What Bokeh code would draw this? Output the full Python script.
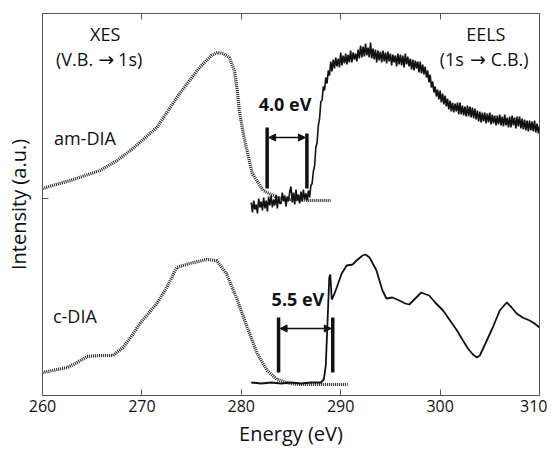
from bokeh.plotting import figure
from bokeh.models import Range1d, LinearAxis, FixedTicker, Arrow, NormalHead
from bokeh.core.properties import value
from bokeh.embed import file_html
from bokeh.resources import INLINE

FONT = "Open Sans"
ARROW_FONT = "DejaVu Sans"

# ---- data (intensity in arbitrary units) ----
x_ticks = [260, 270, 280, 290, 300, 310]
y_ticks = [197]

am_xes_e = [260.0, 261.0, 262.8, 264.0, 265.8, 267.5, 269.1, 271.5, 273.8, 275.8, 277.0, 277.6,
            278.2, 278.8, 279.3, 279.6, 279.8, 280.2, 280.5, 281.1, 282.2, 283.6, 285.0, 287.0, 289.0]
am_xes_i = [207, 210, 215, 219, 225, 235, 247, 268, 302, 328, 340, 343,
            342, 338, 325, 305, 285, 262, 248, 222, 205, 198, 196, 195, 195]

am_eels_e = [
    281.000, 281.125, 281.250, 281.375, 281.500, 281.625, 281.750, 281.875,
    282.000, 282.125, 282.250, 282.375, 282.500, 282.625, 282.750, 282.875,
    283.000, 283.125, 283.250, 283.375, 283.500, 283.625, 283.750, 283.875,
    284.000, 284.125, 284.250, 284.375, 284.500, 284.625, 284.750, 284.875,
    285.000, 285.125, 285.250, 285.375, 285.500, 285.625, 285.750, 285.875,
    286.000, 286.125, 286.250, 286.375, 286.500, 286.625, 286.750, 286.875,
    287.000, 287.125, 287.250, 287.375, 287.500, 287.625, 287.750, 287.875,
    288.000, 288.125, 288.250, 288.375, 288.500, 288.625, 288.750, 288.875,
    289.000, 289.125, 289.250, 289.375, 289.500, 289.625, 289.750, 289.875,
    290.000, 290.125, 290.250, 290.375, 290.500, 290.625, 290.750, 290.875,
    291.000, 291.125, 291.250, 291.375, 291.500, 291.625, 291.750, 291.875,
    292.000, 292.125, 292.250, 292.375, 292.500, 292.625, 292.750, 292.875,
    293.000, 293.125, 293.250, 293.375, 293.500, 293.625, 293.750, 293.875,
    294.000, 294.125, 294.250, 294.375, 294.500, 294.625, 294.750, 294.875,
    295.000, 295.125, 295.250, 295.375, 295.500, 295.625, 295.750, 295.875,
    296.000, 296.125, 296.250, 296.375, 296.500, 296.625, 296.750, 296.875,
    297.000, 297.125, 297.250, 297.375, 297.500, 297.625, 297.750, 297.875,
    298.000, 298.125, 298.250, 298.375, 298.500, 298.625, 298.750, 298.875,
    299.000, 299.125, 299.250, 299.375, 299.500, 299.625, 299.750, 299.875,
    300.000, 300.125, 300.250, 300.375, 300.500, 300.625, 300.750, 300.875,
    301.000, 301.125, 301.250, 301.375, 301.500, 301.625, 301.750, 301.875,
    302.000, 302.125, 302.250, 302.375, 302.500, 302.625, 302.750, 302.875,
    303.000, 303.125, 303.250, 303.375, 303.500, 303.625, 303.750, 303.875,
    304.000, 304.125, 304.250, 304.375, 304.500, 304.625, 304.750, 304.875,
    305.000, 305.125, 305.250, 305.375, 305.500, 305.625, 305.750, 305.875,
    306.000, 306.125, 306.250, 306.375, 306.500, 306.625, 306.750, 306.875,
    307.000, 307.125, 307.250, 307.375, 307.500, 307.625, 307.750, 307.875,
    308.000, 308.125, 308.250, 308.375, 308.500, 308.625, 308.750, 308.875,
    309.000, 309.125, 309.250, 309.375, 309.500, 309.625, 309.750, 309.875,
    310.000]
am_eels_i = [
    193, 183, 195, 186, 191, 182, 197, 188,
    194, 185, 198, 187, 195, 184, 199, 190,
    200, 188, 196, 190, 201, 187, 199, 192,
    192, 203, 194, 200, 189, 199, 194, 204,
    209, 193, 203, 191, 206, 195, 201, 192,
    204, 194, 206, 196, 202, 195, 205, 198,
    210, 212, 224, 230, 248, 253, 270, 277,
    294, 295, 309, 305, 318, 312, 325, 320,
    334, 324, 336, 327, 338, 329, 337, 328,
    343, 330, 340, 332, 342, 331, 341, 333,
    345, 333, 343, 336, 342, 334, 346, 337,
    350, 338, 349, 339, 352, 340, 348, 338,
    353, 337, 347, 336, 346, 333, 345, 335,
    344, 333, 345, 334, 343, 332, 344, 334,
    342, 330, 341, 333, 340, 329, 342, 331,
    341, 330, 340, 328, 342, 331, 339, 329,
    337, 326, 336, 325, 335, 327, 334, 323,
    334, 322, 331, 321, 329, 318, 325, 313,
    321, 308, 314, 303, 309, 299, 306, 296,
    305, 293, 302, 291, 300, 289, 297, 286,
    295, 284, 293, 283, 292, 284, 293, 281,
    293, 281, 290, 280, 289, 279, 290, 279,
    289, 278, 288, 277, 287, 276, 285, 274,
    284, 273, 283, 274, 283, 272, 282, 273,
    283, 271, 281, 272, 280, 270, 280, 271,
    281, 270, 279, 269, 281, 270, 278, 268,
    279, 268, 280, 270, 278, 267, 279, 269,
    279, 267, 277, 266, 276, 265, 275, 264,
    275, 265, 274, 264, 275, 263, 272, 262,
    270]

c_xes_e = [260.0, 261.0, 262.5, 263.5, 264.5, 265.8, 267.1, 268.1, 269.0, 269.8, 271.5, 272.5,
           273.5, 274.8, 276.5, 277.5, 278.5, 279.5, 280.6, 281.6, 282.6, 283.6, 284.9, 286.0,
           288.0, 290.7]
c_xes_i = [23, 25, 28, 33, 39, 40, 40, 48, 60, 72, 92, 108,
           128, 132, 136, 135, 122, 98, 68, 42, 25, 16, 12, 11,
           11, 11]

c_eels_e = [281.0, 282.0, 283.0, 284.0, 285.0, 286.0, 287.0, 288.0, 288.3, 288.5, 288.7, 288.85,
            288.95, 289.1, 289.3, 289.6, 290.1, 290.6, 291.2, 291.6, 292.2, 292.5, 292.9, 293.6,
            294.2, 294.6, 295.2, 295.9, 296.5, 296.9, 297.5, 298.1, 298.6, 298.9, 299.5, 300.3,
            301.0, 301.7, 302.3, 302.8, 303.3, 303.7, 304.0, 304.7, 305.3, 306.0, 306.7, 307.2,
            307.7, 308.3, 309.0, 309.5, 310.0]
c_eels_i = [13, 12, 13, 12, 13, 12, 13, 13, 16, 30, 80, 118,
            121, 96, 100, 108, 122, 130, 131, 135, 140, 141, 138, 125,
            105, 97, 98, 95, 92, 91, 97, 103, 101, 100, 93, 85,
            75, 65, 55, 47, 41, 38, 40, 55, 68, 85, 93, 88,
            82, 78, 75, 72, 68]

# band-gap markers: [VB edge, CB edge], bar extent, arrow level, label
gap_am = [282.6, 286.6]
gap_am_bar = [207, 268]
gap_am_arrow = 258
gap_am_label = [284.4, 292, "4.0 eV"]
gap_c = [283.75, 289.2]
gap_c_bar = [23, 78]
gap_c_arrow = 67
gap_c_label = [285.7, 97, "5.5 eV"]

INK = "#111111"
AX = "#555555"

p = figure(frame_width=497, frame_height=382,
           x_range=Range1d(260, 310), y_range=Range1d(0, 382),
           output_backend="svg", toolbar_location=None,
           min_border_left=42, min_border_top=13, min_border_right=8, min_border_bottom=50)
p.grid.visible = False
p.outline_line_color = AX
p.outline_line_width = 1
p.background_fill_color = "white"
p.border_fill_color = "white"

# bottom axis
xa = p.xaxis[0]
xa.ticker = FixedTicker(ticks=x_ticks)
xa.major_tick_in = 6
xa.major_tick_out = 0
xa.minor_tick_line_color = None
xa.axis_line_color = AX
xa.major_tick_line_color = AX
xa.major_label_text_font = FONT
xa.major_label_text_font_size = "16px"
xa.major_label_text_color = INK
xa.major_label_standoff = 4
xa.axis_label = "Energy (eV)"
xa.axis_label_text_font = FONT
xa.axis_label_text_font_size = "20px"
xa.axis_label_text_font_style = "normal"
xa.axis_label_text_color = INK
xa.axis_label_standoff = 5

# left axis
ya = p.yaxis[0]
ya.ticker = FixedTicker(ticks=y_ticks)
ya.major_label_overrides = {y_ticks[0]: ""}
ya.major_tick_in = 6
ya.major_tick_out = 0
ya.minor_tick_line_color = None
ya.axis_line_color = AX
ya.major_tick_line_color = AX
ya.major_label_standoff = 0
ya.axis_label = "Intensity (a.u.)"
ya.axis_label_text_font = FONT
ya.axis_label_text_font_size = "20px"
ya.axis_label_text_font_style = "normal"
ya.axis_label_text_color = INK
ya.axis_label_standoff = 11

# top axis (ticks only)
top = LinearAxis(ticker=FixedTicker(ticks=x_ticks),
                 major_label_overrides={t: "" for t in x_ticks},
                 major_tick_in=6, major_tick_out=0, minor_tick_line_color=None,
                 axis_line_color=AX, major_tick_line_color=AX, major_label_standoff=0)
p.add_layout(top, "above")

# curves
p.line(am_xes_e, am_xes_i, line_width=3.2, line_color="#222222", line_dash="1 1")
p.line(c_xes_e, c_xes_i, line_width=3.2, line_color="#222222", line_dash="1 1")
p.line(am_eels_e, am_eels_i, line_width=1.6, line_color=INK)
p.line(c_eels_e, c_eels_i, line_width=1.8, line_color=INK)

# gap bars
p.segment(x0=gap_am, y0=[gap_am_bar[0]] * 2, x1=gap_am, y1=[gap_am_bar[1], gap_am_bar[1] - 6],
          line_width=3.5, line_color=INK)
p.segment(x0=gap_c, y0=[gap_c_bar[0]] * 2, x1=gap_c, y1=[gap_c_bar[1]] * 2,
          line_width=3.5, line_color=INK)
for g, yv in ((gap_am, gap_am_arrow), (gap_c, gap_c_arrow)):
    p.add_layout(Arrow(x_start=g[0] + 0.15, y_start=yv, x_end=g[1] - 0.15, y_end=yv,
                       line_width=1.3, line_color=INK,
                       start=NormalHead(size=7, fill_color=INK, line_color=INK, line_width=1),
                       end=NormalHead(size=7, fill_color=INK, line_color=INK, line_width=1)))

# texts
p.text(x=[gap_am_label[0], gap_c_label[0]], y=[gap_am_label[1], gap_c_label[1]],
       text=[gap_am_label[2], gap_c_label[2]], text_font=value(FONT),
       text_font_size="18px", text_font_style="bold", text_align="center",
       text_baseline="middle", text_color=INK)
p.text(x=[266.3, 304.6], y=[362, 362], text=["XES", "EELS"],
       text_font=value(FONT), text_font_size="18px", text_align="center",
       text_baseline="middle", text_color=INK)
# "(V.B. -> 1s)" and "(1s -> C.B.)"
p.text(x=[266.4, 303.8], y=[337, 337], text=["(V.B.", "(1s"], x_offset=[-13, -14],
       text_font=value(FONT), text_font_size="18px", text_align="right",
       text_baseline="middle", text_color=INK)
p.text(x=[266.4, 303.8], y=[337, 337], text=["\u2192", "\u2192"],
       text_font=value(ARROW_FONT), text_font_size="19px", text_align="center",
       text_baseline="middle", text_color=INK)
p.text(x=[266.4, 303.8], y=[337, 337], text=["1s)", "C.B.)"], x_offset=[12, 13],
       text_font=value(FONT), text_font_size="18px", text_align="left",
       text_baseline="middle", text_color=INK)
p.text(x=[261.15, 261.05], y=[258, 80], text=["am-DIA", "c-DIA"],
       text_font=value(FONT), text_font_size="18px", text_align="left",
       text_baseline="middle", text_color=INK)

open("out.html", "w").write(file_html(p, INLINE))
